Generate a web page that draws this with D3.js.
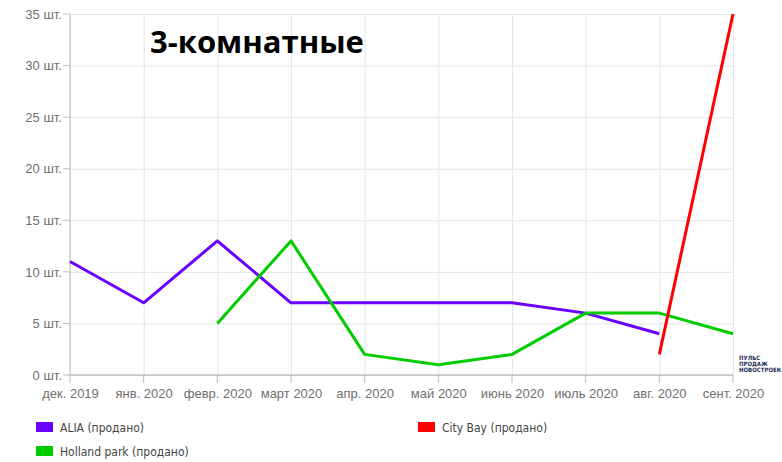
<!DOCTYPE html>
<html lang="ru">
<head>
<meta charset="UTF-8">
<title>3-комнатные</title>
<script src="https://d3js.org/d3.v7.min.js"></script>
<style>
    body {margin: 0; background: #fff;}
    svg {display: block;}
</style>
</head>
<body>
<svg id="chart" width="782" height="462"></svg>
<script>
// months on x axis
let months = ["дек. 2019", "янв. 2020", "февр. 2020", "март 2020", "апр. 2020",
    "май 2020", "июнь 2020", "июль 2020", "авг. 2020", "сент. 2020"];
let yTicks = [0, 5, 10, 15, 20, 25, 30, 35];

// sold per month (null = no data)
let alia = [11, 7, 13, 7, 7, 7, 7, 6, 4, null];
let holland = [null, null, 5, 13, 2, 1, 2, 6, 6, 4];
let cityBay = [null, null, null, null, null, null, null, null, 2, 35];

let series = [
    {name: "ALIA (продано)", values: alia, color: "#6a00ff"},
    {name: "Holland park (продано)", values: holland, color: "#00cc00"},
    {name: "City Bay (продано)", values: cityBay, color: "#ff0000"}
];

let svg = d3.select("#chart");
let pLeft = 70, pRight = 733, pTop = 14, pBottom = 375;

let x = d3.scalePoint().domain(months).range([pLeft, pRight]);
let y = d3.scaleLinear().domain([0, 35]).range([pBottom, pTop]);

let tickFont = "13px 'Liberation Sans', Arial, sans-serif";

// grid
svg.append("g")
    .attr("transform", `translate(${pLeft},0)`)
    .call(d3.axisLeft(y).tickValues(yTicks).tickSize(-(pRight - pLeft)).tickFormat(d => d + " шт."))
    .call(g => g.select(".domain").remove())
    .call(g => g.selectAll(".tick line").attr("stroke", "#e6e6e6"))
    .call(g => g.selectAll(".tick text").attr("x", -8).attr("fill", "#707070")
        .style("font", tickFont));

// small tick marks left of the y axis
svg.append("g")
    .selectAll("line").data(yTicks).join("line")
    .attr("x1", pLeft - 7).attr("x2", pLeft)
    .attr("y1", d => y(d)).attr("y2", d => y(d))
    .attr("stroke", "#bbb");

svg.append("g")
    .attr("transform", `translate(0,${pBottom})`)
    .call(d3.axisBottom(x).tickSize(-(pBottom - pTop)).tickSizeOuter(0))
    .call(g => g.select(".domain").remove())
    .call(g => g.selectAll(".tick line").attr("stroke", "#e6e6e6"))
    .call(g => g.selectAll(".tick text").attr("y", 14).attr("fill", "#707070")
        .style("font", tickFont));

// tick marks below x axis
svg.append("g")
    .selectAll("line").data(months).join("line")
    .attr("x1", d => x(d)).attr("x2", d => x(d))
    .attr("y1", pBottom).attr("y2", pBottom + 8)
    .attr("stroke", "#bbb");

// axis lines
svg.append("line").attr("x1", pLeft).attr("x2", pRight).attr("y1", pBottom).attr("y2", pBottom)
    .attr("stroke", "#aaa");
svg.append("line").attr("x1", pLeft).attr("x2", pLeft).attr("y1", pTop).attr("y2", pBottom)
    .attr("stroke", "#bbb");

// lines
let line = d3.line()
    .defined(d => d.v !== null)
    .x(d => x(d.m))
    .y(d => y(d.v));

series.forEach(s => {
    let pts = months.map((m, i) => ({m: m, v: s.values[i]}));
    svg.append("path")
        .datum(pts)
        .attr("fill", "none")
        .attr("stroke", s.color)
        .attr("stroke-width", 3)
        .attr("stroke-linejoin", "round")
        .attr("d", line);
});

// title
svg.append("text")
    .attr("x", 150).attr("y", 53)
    .attr("fill", "#000")
    .style("font", "bold 31px 'Open Sans', sans-serif")
    .text("3-комнатные");

// watermark
let wm = svg.append("text")
    .attr("x", 739).attr("y", 360)
    .attr("fill", "#1d2b5a")
    .style("font", "bold 6px 'DejaVu Sans Condensed', 'DejaVu Sans', sans-serif");
["ПУЛЬС", "ПРОДАЖ", "НОВОСТРОЕК"].forEach((t, i) => {
    wm.append("tspan").attr("x", 739).attr("dy", i ? 6 : 0).text(t);
});

// legend
let legendPos = [[36, 427], [36, 451], [418, 427]];
let lg = svg.append("g").selectAll("g").data(series).join("g")
    .attr("transform", (d, i) => `translate(${legendPos[i][0]},${legendPos[i][1]})`);
lg.append("rect").attr("x", 0).attr("y", -5).attr("width", 17).attr("height", 10)
    .attr("fill", d => d.color);
lg.append("text").attr("x", 24).attr("y", 4.5)
    .attr("fill", "#444")
    .style("font-family", "'DejaVu Sans Condensed', 'DejaVu Sans', sans-serif")
    .style("font-stretch", "condensed")
    .style("font-size", "12px")
    .text(d => d.name);
</script>
</body>
</html>
